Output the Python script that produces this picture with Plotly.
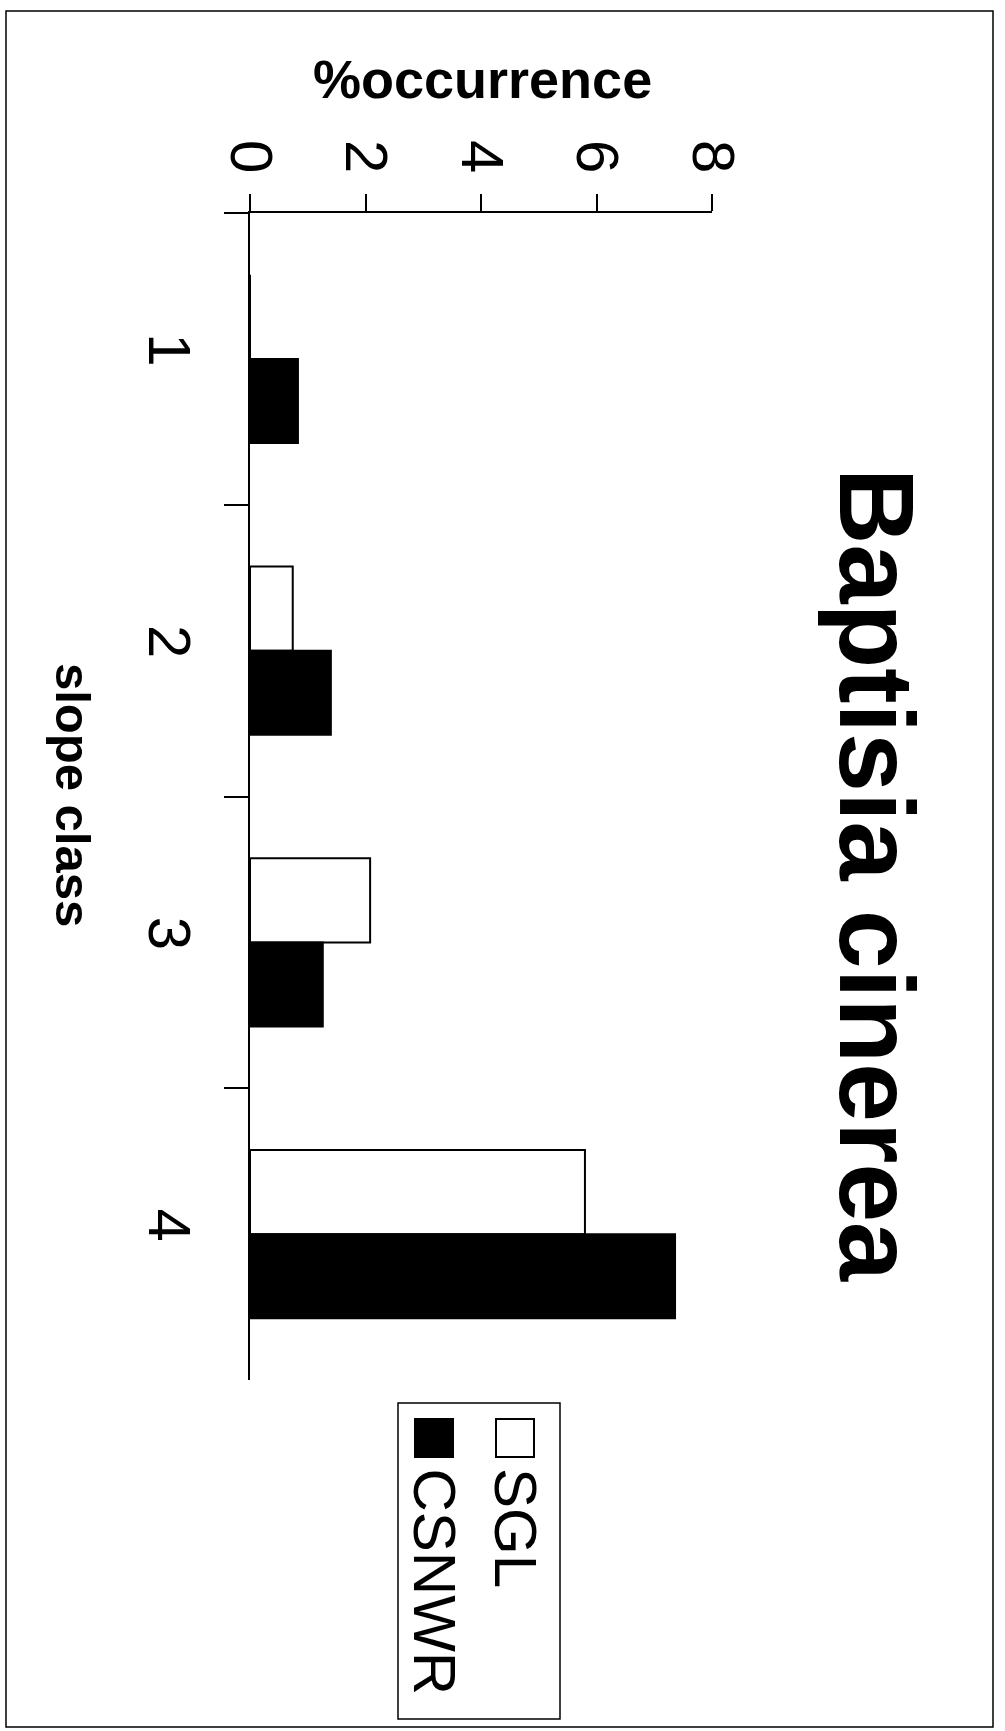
import plotly.graph_objects as go

# Percent occurrence of Baptisia cinerea by slope class, two sites
slope_classes = ["1", "2", "3", "4"]
sgl_pct = [0, 0.74, 2.08, 5.80]
csnwr_pct = [0.83, 1.40, 1.26, 7.36]
value_ticks = [0, 2, 4, 6, 8]

W, H = 1005, 1731
FONT = "Liberation Sans, Arial, sans-serif"


def px_x(x):
    return x / W


def px_y(y):
    return 1 - y / H


fig = go.Figure()
fig.add_trace(go.Bar(
    name="SGL", y=slope_classes, x=sgl_pct, orientation="h",
    marker=dict(color="white", line=dict(color="black", width=2)),
))
fig.add_trace(go.Bar(
    name="CSNWR", y=slope_classes, x=csnwr_pct, orientation="h",
    marker=dict(color="black", line=dict(color="black", width=2)),
))

fig.update_layout(
    width=W, height=H,
    margin=dict(l=0, r=0, t=0, b=0, autoexpand=False),
    paper_bgcolor="white", plot_bgcolor="white",
    showlegend=False,
    barmode="group", bargap=0.424, bargroupgap=0,
    font=dict(family=FONT, color="black"),
    xaxis=dict(
        domain=[px_x(250), px_x(712)], range=[0, 8],
        side="top", anchor="y", automargin=False,
        tickvals=value_ticks, ticktext=[str(v) for v in value_ticks],
        tickangle=90, tickfont=dict(size=60, family=FONT),
        ticks="outside", ticklen=17, tickwidth=1.5, tickcolor="black",
        showline=True, linecolor="black", linewidth=1.5,
        showgrid=False, zeroline=False,
    ),
    yaxis=dict(
        domain=[px_y(1380), px_y(213)], automargin=False,
        type="category", categoryorder="array", categoryarray=slope_classes,
        range=[3.5, -0.5],
        tickangle=90, tickfont=dict(size=60, family=FONT),
        ticks="outside", ticklen=24, tickwidth=1.5, tickcolor="black",
        tickson="boundaries", ticklabelstandoff=27,
        showline=True, linecolor="black", linewidth=1.5,
        showgrid=False, zeroline=False,
    ),
)

# Outer frame
fig.add_shape(type="rect", xref="paper", yref="paper",
              x0=px_x(6), x1=px_x(993), y0=px_y(1727), y1=px_y(11),
              line=dict(color="black", width=1.5), fillcolor="rgba(0,0,0,0)")

# Titles
fig.add_annotation(text="<b>Baptisia cinerea</b>", textangle=90,
                   xref="paper", yref="paper", x=px_x(877), y=px_y(875),
                   xanchor="center", yanchor="middle", showarrow=False,
                   font=dict(size=106, family=FONT))
fig.add_annotation(text="<b>%occurrence</b>",
                   xref="paper", yref="paper", x=px_x(482), y=px_y(79),
                   xanchor="center", yanchor="middle", showarrow=False,
                   font=dict(size=54, family=FONT))
fig.add_annotation(text="<b>slope class</b>", textangle=90,
                   xref="paper", yref="paper", x=px_x(73), y=px_y(795),
                   xanchor="center", yanchor="middle", showarrow=False,
                   font=dict(size=49, family=FONT))

# Legend box with swatches and labels
fig.add_shape(type="rect", xref="paper", yref="paper",
              x0=px_x(398), x1=px_x(560), y0=px_y(1719), y1=px_y(1403),
              line=dict(color="black", width=1.5), fillcolor="white")
legend_items = [("SGL", "white", 496, 516), ("CSNWR", "black", 415, 434)]
for label, fill, sx, tx in legend_items:
    fig.add_shape(type="rect", xref="paper", yref="paper",
                  x0=px_x(sx), x1=px_x(sx + 38), y0=px_y(1457), y1=px_y(1419),
                  line=dict(color="black", width=2), fillcolor=fill)
    fig.add_annotation(text=label, textangle=90,
                       xref="paper", yref="paper", x=px_x(tx), y=px_y(1466),
                       xanchor="center", yanchor="top", showarrow=False,
                       font=dict(size=60, family=FONT))

fig.write_html("out.html")
